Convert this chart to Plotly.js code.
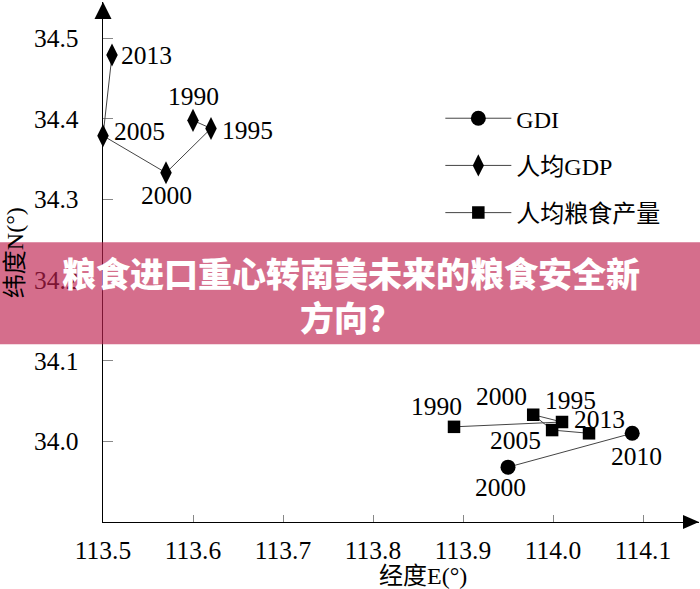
<!DOCTYPE html>
<html>
<head>
<meta charset="utf-8">
<script src="https://cdn.plot.ly/plotly-3.0.1.min.js"></script>
<style>
  html, body { margin: 0; padding: 0; background: #fff; }
  #chart { width: 700px; height: 589px; }
</style>
</head>
<body>
<div id="chart"></div>
<script>
// ---- data ----
const seriesNames = ['GDI', '人均GDP', '人均粮食产量'];

const gdiYears = ['2000', '2010'];
const gdiLon = [113.95, 114.088];
const gdiLat = [33.968, 34.010];

const gdpYears = ['1990', '1995', '2000', '2005', '2013'];
const gdpLon = [113.60, 113.62, 113.57, 113.50, 113.51];
const gdpLat = [34.398, 34.388, 34.333, 34.379, 34.479];

const grainYears = ['1990', '1995', '2000', '2005', '2013'];
const grainLon = [113.89, 114.01, 113.978, 113.999, 114.04];
const grainLat = [34.018, 34.024, 34.033, 34.014, 34.010];

const xTicks = [113.5, 113.6, 113.7, 113.8, 113.9, 114.0, 114.1];
const xTickLabels = ['113.5', '113.6', '113.7', '113.8', '113.9', '114.0', '114.1'];
const yTicks = [34.0, 34.1, 34.2, 34.3, 34.4, 34.5];
const yTickLabels = ['34.0', '34.1', '34.2', '34.3', '34.4', '34.5'];

const xTitle = '经度E(°)';
const yTitle = '纬度N(°)';
const bannerText = '粮食进口重心转南美未来的粮食安全新<br>方向？';

// ---- styles ----
const serif = 'Liberation Serif, "Noto Sans CJK SC", serif';
const labelFont = { family: serif, size: 25.5, color: '#000' };
const lineStyle = { color: '#444', width: 1 };

// label offsets in pixels (dx right, dy down) from each point
const gdiLabelOffsets = [[-8, 20], [4, 23]];
const gdpLabelOffsets = [[0, -24], [36, 2], [0, 23], [36, -4], [34, 0]];
const grainLabelOffsets = [[-18, -20], [8, -22], [-32, -18], [-37, 10], [10, -14]];

const traces = [
  {
    name: seriesNames[0], legendgroup: 'a',
    x: gdiLon, y: gdiLat,
    mode: 'lines+markers', type: 'scatter', cliponaxis: false,
    line: lineStyle,
    marker: { symbol: 'circle', size: 15, color: '#000' },
    hoverinfo: 'skip'
  },
  {
    name: seriesNames[1], legendgroup: 'b',
    x: gdpLon, y: gdpLat,
    mode: 'lines+markers', type: 'scatter', cliponaxis: false,
    line: lineStyle,
    marker: { symbol: 'diamond-tall', size: 16.5, color: '#000' },
    hoverinfo: 'skip'
  },
  {
    name: seriesNames[2], legendgroup: 'c',
    x: grainLon, y: grainLat,
    mode: 'lines+markers', type: 'scatter', cliponaxis: false,
    line: lineStyle,
    marker: { symbol: 'square', size: 12.5, color: '#000' },
    hoverinfo: 'skip'
  }
];

function pointLabels(xs, ys, texts, offsets) {
  return texts.map((t, i) => ({
    text: t, x: xs[i], y: ys[i], xref: 'x', yref: 'y',
    xshift: offsets[i][0], yshift: -offsets[i][1],
    xanchor: 'center', yanchor: 'middle', showarrow: false,
    font: labelFont
  }));
}

const labelAnnotations = []
  .concat(pointLabels(gdiLon, gdiLat, gdiYears, gdiLabelOffsets))
  .concat(pointLabels(gdpLon, gdpLat, gdpYears, gdpLabelOffsets))
  .concat(pointLabels(grainLon, grainLat, grainYears, grainLabelOffsets));

const layout = {
  width: 700, height: 589,
  margin: { l: 103, r: 1, t: 2, b: 67.3, pad: 0 },
  paper_bgcolor: '#fff', plot_bgcolor: '#fff',
  showlegend: true,
  legend: {
    x: 0.566, y: 0.819, xanchor: 'left', yanchor: 'top',
    font: { family: serif, size: 24, color: '#000' },
    tracegroupgap: 13, traceorder: 'grouped', itemwidth: 66,
    bgcolor: 'rgba(0,0,0,0)'
  },
  xaxis: {
    range: [113.5, 114.1622], autorange: false,
    showline: true, linecolor: '#000', linewidth: 1.3,
    ticks: 'inside', ticklen: 7, tickcolor: '#888', tickwidth: 1,
    tickvals: xTicks, ticktext: xTickLabels,
    tickfont: { family: serif, size: 25.5, color: '#000' },
    ticklabelstandoff: 5,
    showgrid: false, zeroline: false, layer: 'below traces', fixedrange: true
  },
  yaxis: {
    range: [33.9, 34.5448], autorange: false,
    showline: true, linecolor: '#000', linewidth: 1.3,
    ticks: 'inside', ticklen: 10, tickcolor: '#888', tickwidth: 1,
    tickvals: yTicks, ticktext: yTickLabels,
    tickfont: { family: serif, size: 25.5, color: '#000' },
    ticklabelstandoff: 18,
    showgrid: false, zeroline: false, layer: 'below traces', fixedrange: true
  },
  shapes: [
    // axis arrowheads
    { type: 'path', xref: 'paper', yref: 'paper', xsizemode: 'pixel', ysizemode: 'pixel',
      xanchor: 1, yanchor: 0, path: 'M0,0 L-16,7 L-16,-7 Z',
      fillcolor: '#000', line: { width: 0 }, layer: 'above' },
    { type: 'path', xref: 'paper', yref: 'paper', xsizemode: 'pixel', ysizemode: 'pixel',
      xanchor: 0, yanchor: 1, path: 'M0,0 L-8.5,-17 L8.5,-17 Z',
      fillcolor: '#000', line: { width: 0 }, layer: 'above' },
    // banner
    { type: 'rect', xref: 'paper', yref: 'paper', x0: -0.2, x1: 1.05, y0: 0.342, y1: 0.538,
      fillcolor: 'rgba(190,32,78,0.65)', line: { width: 0 }, layer: 'above' }
  ],
  annotations: labelAnnotations.concat([
    { text: xTitle, xref: 'paper', yref: 'paper', x: (423 - 103) / 596, y: 0,
      yshift: -54, xanchor: 'center', yanchor: 'middle', showarrow: false,
      font: { family: serif, size: 24, color: '#000' } },
    { text: yTitle, xref: 'paper', yref: 'paper', x: 0, xshift: -88, y: 0.517,
      textangle: -90, xanchor: 'center', yanchor: 'middle', showarrow: false,
      font: { family: serif, size: 24, color: '#000' } },
    { text: bannerText, xref: 'paper', yref: 'paper', x: (351 - 103) / 596, y: 0.437,
      xanchor: 'center', yanchor: 'middle', showarrow: false,
      font: { family: '"Noto Sans CJK SC", sans-serif', size: 34, color: '#fff', weight: 900 } }
  ])
};

Plotly.newPlot('chart', traces, layout, { displayModeBar: false, staticPlot: true });
</script>
</body>
</html>
